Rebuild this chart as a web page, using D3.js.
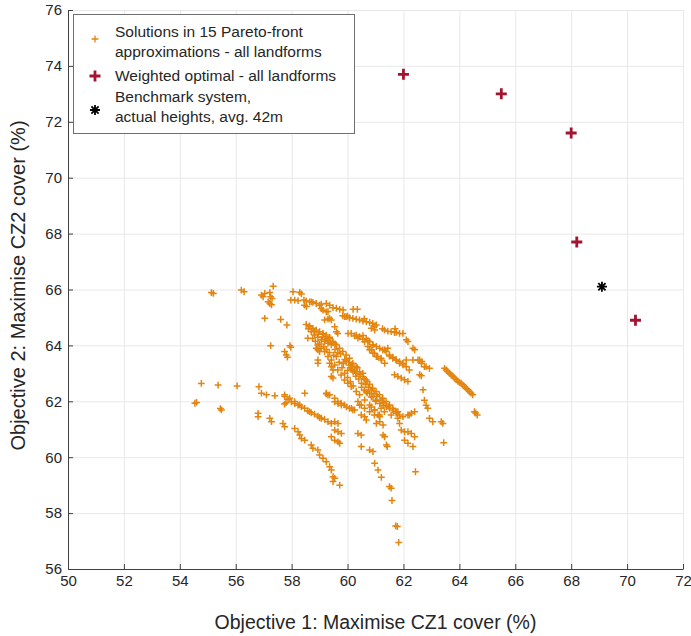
<!DOCTYPE html>
<html>
<head>
<meta charset="utf-8">
<script src="https://cdn.jsdelivr.net/npm/d3@7"></script>
<style>
  body { margin: 0; background: #fff; }
  svg text { font-family: "Liberation Sans", Arial, Helvetica, sans-serif; fill: #262626; }
</style>
</head>
<body>
<svg id="chart" width="691" height="636"></svg>
<script>
// axis settings
const xTicks = [50, 52, 54, 56, 58, 60, 62, 64, 66, 68, 70, 72];
const yTicks = [56, 58, 60, 62, 64, 66, 68, 70, 72, 74, 76];
const xTitle = "Objective 1: Maximise CZ1 cover (%)";
const yTitle = "Objective 2: Maximise CZ2 cover (%)";
const legendLabels = [
  ["Solutions in 15 Pareto-front", "approximations - all landforms"],
  ["Weighted optimal - all landforms"],
  ["Benchmark system,", "actual heights, avg. 42m"]
];

// Pareto-front solutions [CZ1 %, CZ2 %]
const leftScatter = [
  [55.13,65.89],[55.2,65.86],[56.2,65.98],[56.3,65.92],[57.34,66.12],
  [56.92,65.8],[57.04,65.86],[57.22,65.89],[57.25,65.74],[57.3,65.68],[56.98,65.74],[57.16,65.56],[57.22,65.5],[57.28,65.45],
  [57.04,64.97],[57.61,64.93],[57.83,64.73],
  [57.25,63.99],[57.94,63.99],[57.97,63.93],[57.75,63.78],[57.81,63.66],[57.85,63.58],
  [54.77,62.64],[55.37,62.58],[56.05,62.55],[56.83,62.52],[54.54,61.93],[54.6,61.96],[55.49,61.69],[55.45,61.74],
  [56.8,61.57],[56.8,61.45],[57.22,61.39],[57.28,61.27],[57.69,61.21],[57.75,61.09]
];
const upperFront = [
  [58.05,65.92],[58.29,65.9],[58.35,65.84],[57.97,65.62],[58.11,65.62],[58.23,65.6],[58.44,65.62],[58.52,65.59],[58.64,65.56],
  [58.7,65.56],[58.76,65.54],[58.88,65.5],[59.0,65.44],[59.06,65.48],[59.24,65.5],[59.36,65.44],[58.46,65.44],[58.53,65.39],
  [59.06,65.32],[59.12,65.26],[59.24,65.2],[59.3,65.21],[59.48,65.35],[59.6,65.33],[59.72,65.29],[59.84,65.27],[60.2,65.29],[60.35,65.29],
  [59.36,64.97],[59.42,64.91],[59.18,64.91],[59.3,64.94],
  [59.83,65.06],[59.9,65.03],[59.95,65.03],[60.07,64.99],[60.19,64.97],[60.31,64.94],[60.43,64.91],[60.55,64.87],[60.67,64.85],
  [60.79,64.82],[60.9,64.79],[61.03,64.73],[60.85,64.61],[60.97,64.55],[60.96,64.67],
  [61.32,64.55],[61.44,64.51],[61.56,64.49],[61.68,64.46],[61.74,64.47],[61.86,64.43],[61.98,64.43],
  [62.1,64.2],[62.16,64.14],[62.34,63.9],[62.4,63.84],[62.58,63.48],[62.66,63.42],[62.81,63.24],[62.93,63.18]
];
const centreBands = [
  [58.52,64.75],[58.64,64.7],[58.64,64.67],[58.76,64.61],[58.88,64.55],[59.0,64.49],[59.12,64.43],[59.12,64.4],[59.24,64.37],
  [59.24,64.31],[59.36,64.29],[59.36,64.25],[59.48,64.13],[59.6,64.01],[59.71,63.9],[59.83,63.78],[59.95,63.66],[60.07,63.54],
  [60.19,63.36],[60.31,63.24],[60.43,63.06],[60.55,62.88],[60.67,62.76],[60.79,62.61],[60.9,62.47],[61.02,62.35],[61.14,62.23],
  [61.26,62.11],[61.38,61.99],[61.5,61.87],[61.62,61.75],[61.74,61.63],[61.86,61.51],
  [58.7,64.49],[58.82,64.37],[58.94,64.29],[59.06,64.2],[59.18,64.14],[59.3,64.08],[59.42,64.02],[58.58,64.26],[58.88,63.9],
  [58.94,63.84],[59.0,63.78],[58.94,63.48],[58.94,63.36],[59.3,63.6],[59.36,63.36],[59.42,63.24],[59.48,63.12],[59.42,62.89],
  [59.48,62.83],[59.6,64.49],[59.65,64.43],[59.54,64.67],
  [58.94,64.01],[59.06,63.9],[59.18,63.78],[59.42,63.48],[59.54,63.3],[59.65,63.12],[59.77,62.94],[59.89,62.76],[60.01,62.65],
  [60.13,62.53],[60.31,62.35],[60.43,62.23],[60.61,62.05],[60.79,61.87],[60.96,61.69],[61.14,61.51],
  [59.6,63.6],[59.7,63.4],[59.8,63.2],[59.9,63.0],[60.0,62.85],[60.1,62.7],[60.2,62.55],[59.75,63.7],[59.9,63.5],[60.05,63.3],
  [60.15,63.15],[60.3,63.0],[60.4,62.8],[60.5,62.65],
  [60.02,64.43],[60.13,64.43],[60.25,64.34],[60.31,64.37],[60.37,64.26],[60.43,64.31],[60.55,64.22],[60.55,64.35],[60.67,64.25],
  [60.73,64.17],[60.79,64.13],[60.91,64.02],[60.9,64.01],[61.03,63.96],[61.15,63.9],[61.26,63.84],[61.33,63.84],[61.44,63.9],
  [61.38,63.78],[61.5,63.66],[61.62,63.54],[61.74,63.48],[61.86,63.42],[61.98,63.36],[62.1,63.24],[62.21,63.12],
  [60.61,64.13],[60.73,63.96],[60.79,63.84],[60.85,63.84],[60.91,63.72],[60.96,63.72],[61.03,63.6],[61.08,63.6],[61.2,63.54],
  [61.21,63.48],[61.33,63.36],[61.5,63.62],[61.62,63.58],[61.74,63.48],[61.86,63.36],[61.98,63.3],[62.1,63.48],[62.34,63.48],
  [62.52,63.48],[62.64,63.36],[62.75,63.24],
  [61.68,62.95],[61.8,62.89],[61.92,62.83],[62.04,62.77],[62.16,62.71],[62.58,62.95],[62.64,62.91],[62.7,62.41]
];
const denseCore = [
  [58.6,64.6],[58.8,64.5],[58.95,64.4],[59.1,64.3],[59.2,64.22],[59.3,64.18],[59.45,64.1],[59.55,64.05],[58.75,64.25],
  [58.85,64.15],[59.0,64.05],[59.15,63.95],[59.25,63.85],[59.35,63.75],[59.5,63.65],[59.55,63.85],[59.65,63.75],
  [59.95,63.45],[60.05,63.4],[60.15,63.3],[60.25,63.1],[60.35,63.2],[60.45,62.95],[60.55,63.0],[60.6,62.8],[60.7,62.7],
  [60.3,62.9],[60.2,63.05],[60.1,63.2],[60.0,63.1],[59.85,63.35],[60.65,62.6],[60.75,62.5],[60.85,62.4],[60.95,62.28],
  [61.05,62.18],[61.2,62.05],[61.3,61.95],[61.45,61.82],[60.5,62.5],[60.6,62.4],[60.7,62.3],[60.85,62.15],[61.0,62.0],
  [61.7,64.6],[61.25,64.6],[60.6,64.95],[60.0,65.05]
];
const lowerBands = [
  [56.92,62.29],[57.1,62.23],[57.4,62.2],[57.75,62.17],[57.75,62.23],[57.87,62.07],[57.93,62.11],[57.99,61.98],[58.11,61.92],
  [58.11,61.99],[58.23,61.86],[58.29,61.87],[58.35,61.8],[58.47,61.75],[58.58,61.66],[58.64,61.63],[58.7,61.59],[58.82,61.54],
  [58.94,61.47],[59.0,61.42],[59.06,61.39],[59.18,61.35],[59.3,61.27],[59.42,61.21],[57.75,61.9],[57.8,61.95],
  [58.47,62.29],[59.24,62.27],[59.3,62.22],
  [58.11,61.03],[58.23,60.91],[58.29,60.79],[58.35,60.67],[58.47,60.61],[58.7,60.44],[58.76,60.32],[58.94,60.26],[59.0,60.08],
  [59.12,59.96],[59.24,59.84],[59.36,59.66],[59.42,59.54],[59.48,59.3],[59.48,59.13],[59.54,59.25],[59.72,59.0],
  [59.24,62.29],[59.36,62.23],[59.54,62.11],[59.65,61.99],[59.77,61.93],[59.89,61.87],[60.07,61.75],[60.19,61.69],
  [59.54,61.98],[59.66,61.92],[59.78,61.86],[59.96,61.8],[60.14,61.75],[60.25,61.69],
  [59.54,61.27],[59.66,61.21],[59.42,60.73],[59.54,60.97],[59.66,60.91],[59.78,60.85],[59.54,60.61],[59.66,60.55],[59.72,60.5],
  [60.67,62.34],[60.79,62.28],[60.91,62.16],[61.03,62.04],[61.15,61.92],[61.27,61.86],[61.39,61.8],[61.5,61.75],[61.62,61.69],
  [61.74,61.57],[61.8,61.39],[61.86,61.21],
  [60.43,61.86],[60.49,61.51],[60.61,61.45],[60.67,61.33],[60.85,61.8],[60.97,61.69],[61.03,61.21],[61.15,61.27],[61.27,61.15],
  [61.33,60.73],[61.39,60.44],[61.27,60.79],[61.42,60.38],[61.09,61.51],[61.15,61.45],
  [60.37,61.99],[60.49,61.87],[60.61,61.75],[60.79,61.63],[60.96,61.51],[61.2,61.75],[61.32,61.63],[61.56,61.51],[61.8,61.63],
  [61.98,61.45],[62.21,61.51],
  [60.37,60.85],[60.49,60.79],[60.49,60.38],[60.79,60.26],[60.91,60.2],
  [61.92,60.97],[62.04,60.91],[62.16,60.91],[62.28,60.85],[62.4,60.73],[62.04,60.61],[62.16,60.5],[62.34,60.38],
  [62.16,61.51],[62.28,61.57],[62.4,61.63],
  [60.97,59.78],[61.09,59.54],[61.21,59.28],[61.5,58.95],[61.56,58.89],[61.59,58.45],[61.72,57.54],[61.78,57.52],[61.83,56.95],
  [62.43,59.48]
];
const rightFronts = [
  [62.75,62.04],[62.81,61.86],[62.87,61.75],[62.93,61.39],[63.05,61.27],[63.35,61.27],[63.41,61.21],[63.44,60.52],
  [63.47,63.18],[63.59,63.06],[63.71,62.94],[63.83,62.83],[63.95,62.71],[64.06,62.65],[64.18,62.53],[64.3,62.41],[64.42,62.29],
  [64.48,62.23],[63.53,63.12],[63.65,63.0],[63.77,62.9],[63.89,62.77],[64.0,62.68],[64.12,62.59],[64.24,62.47],[64.36,62.35],
  [64.54,61.63],[64.64,61.51],[64.58,61.58]
];
const weightedOptimal = [[62.0,73.7],[65.5,73.0],[68.0,71.6],[68.2,67.7],[70.3,64.9]];
const benchmark = [[69.1,66.1]];

const paretoPoints = [].concat(leftScatter, upperFront, centreBands, denseCore, lowerBands, rightFronts);

const svg = d3.select("#chart");
const margin = { top: 10, right: 8, bottom: 67, left: 68 };
const width = 691, height = 636;

const x = d3.scaleLinear().domain([50, 72]).range([margin.left, width - margin.right]);
const y = d3.scaleLinear().domain([56, 76]).range([height - margin.bottom, margin.top]);

const orange = "#e3850f", crimson = "#a2142f";

// grid
svg.append("g")
  .attr("transform", `translate(0,${height - margin.bottom})`)
  .call(d3.axisBottom(x).tickValues(xTicks).tickSize(-(height - margin.top - margin.bottom)).tickFormat(""))
  .call(g => g.select(".domain").remove())
  .call(g => g.selectAll("line").attr("stroke", "#e8e8e8"));
svg.append("g")
  .attr("transform", `translate(${margin.left},0)`)
  .call(d3.axisLeft(y).tickValues(yTicks).tickSize(-(width - margin.left - margin.right)).tickFormat(""))
  .call(g => g.select(".domain").remove())
  .call(g => g.selectAll("line").attr("stroke", "#e8e8e8"));

// markers
const plusSmall = "M-3.4,0H3.4M0,-3.4V3.4";
const plusBig = "M-5.5,0H5.5M0,-5.5V5.5";
const star = "M-5,0H5M0,-5V5M-3.6,-3.6L3.6,3.6M-3.6,3.6L3.6,-3.6";

svg.append("g").selectAll("path")
  .data(paretoPoints)
  .join("path")
  .attr("transform", d => `translate(${x(d[0])},${y(d[1])})`)
  .attr("d", plusSmall)
  .attr("stroke", orange)
  .attr("stroke-width", 1.5)
  .attr("fill", "none");

svg.append("g").selectAll("path")
  .data(weightedOptimal)
  .join("path")
  .attr("transform", d => `translate(${x(d[0])},${y(d[1])})`)
  .attr("d", plusBig)
  .attr("stroke", crimson)
  .attr("stroke-width", 2.8)
  .attr("fill", "none");

svg.append("g").selectAll("path")
  .data(benchmark)
  .join("path")
  .attr("transform", d => `translate(${x(d[0])},${y(d[1])})`)
  .attr("d", star)
  .attr("stroke", "#000")
  .attr("stroke-width", 1.8)
  .attr("fill", "none");

// axes
const xAxis = svg.append("g")
  .attr("transform", `translate(0,${height - margin.bottom})`)
  .call(d3.axisBottom(x).tickValues(xTicks).tickSize(-5).tickSizeOuter(0).tickPadding(6));
const yAxis = svg.append("g")
  .attr("transform", `translate(${margin.left},0)`)
  .call(d3.axisLeft(y).tickValues(yTicks).tickSize(-5).tickSizeOuter(0).tickPadding(6));
[xAxis, yAxis].forEach(a => {
  a.select(".domain").attr("stroke", "#404040");
  a.selectAll(".tick line").attr("stroke", "#404040");
  a.selectAll("text").attr("font-size", 15).attr("fill", "#262626")
    .style("font-family", '"Liberation Sans", Arial, sans-serif');
});

svg.append("text")
  .attr("x", (margin.left + width - margin.right) / 2)
  .attr("y", 629)
  .attr("text-anchor", "middle")
  .attr("font-size", 19.5)
  .text(xTitle);
svg.append("text")
  .attr("transform", `translate(25,${(margin.top + height - margin.bottom) / 2 - 4}) rotate(-90)`)
  .attr("text-anchor", "middle")
  .attr("font-size", 20)
  .text(yTitle);

// legend
const legend = svg.append("g");
legend.append("rect")
  .attr("x", 73.5).attr("y", 14.5).attr("width", 281).attr("height", 119)
  .attr("fill", "#fff").attr("stroke", "#6e6e6e");

const legendRows = [
  { marker: plusSmall, color: orange, sw: 1.3, my: 39, ty: [37, 57] },
  { marker: plusBig, color: crimson, sw: 2.8, my: 76, ty: [81] },
  { marker: star, color: "#000", sw: 1.8, my: 110, ty: [102, 122] }
];
legendRows.forEach((r, i) => {
  legend.append("path")
    .attr("transform", `translate(95,${r.my})`)
    .attr("d", r.marker).attr("stroke", r.color).attr("stroke-width", r.sw).attr("fill", "none");
  legendLabels[i].forEach((t, j) => {
    legend.append("text").attr("x", 115).attr("y", r.ty[j]).attr("font-size", 15.5).text(t);
  });
});
</script>
</body>
</html>
